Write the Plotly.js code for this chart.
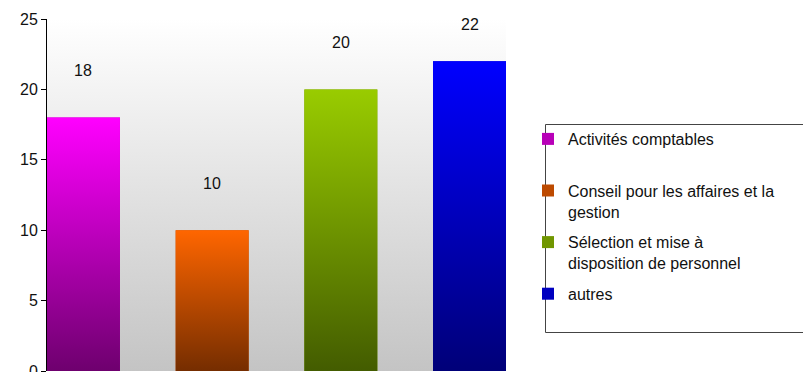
<!DOCTYPE html>
<html>
<head>
<meta charset="utf-8">
<script src="https://cdn.plot.ly/plotly-3.0.1.min.js"></script>
<style>
html,body{margin:0;padding:0;background:#fff;}
#chart{width:803px;height:372px;}
</style>
</head>
<body>
<div id="chart"></div>
<script>
// ---- data ----
const categories = [
  "Activités comptables",
  "Conseil pour les affaires et la<br>gestion",
  "Sélection et mise à<br>disposition de personnel",
  "autres"
];
const values = [18, 10, 20, 22];
const topColors = ["#ff00ff", "#ff6600", "#99cc00", "#0000ff"];
const bottomColors = ["#6e006e", "#752d00", "#435c00", "#000078"];
const midColors = ["#b800b8", "#bd4a00", "#709600", "#0000c0"];
const yTicks = [0, 5, 10, 15, 20, 25];

// ---- layout constants ----
const FONT = "Liberation Sans, Arial, sans-serif";
const half = 0.2835;           // half bar width in category units
const barWidth = half * 2;
const yMax = 25;
const L = 47, PW = 459, T = 19, PH = 352;
const px2x = p => (p - L) / PW;
const py2y = p => (T + PH - p) / PH;

const traces = [];
const idx = values.map((v, i) => i);

// real bars (legend entries)
values.forEach((v, i) => {
  const isSingle = categories[i].indexOf("<br>") < 0;
  traces.push({
    type: "bar",
    x: [idx[i]],
    y: [v],
    width: barWidth,
    name: isSingle ? categories[i] + "<br> " : categories[i],
    legendgroup: "g" + i,
    marker: {color: midColors[i], line: {width: 0}},
    hoverinfo: "skip"
  });
});
// gradient overlay on each bar
values.forEach((v, i) => {
  traces.push({
    type: "scatter",
    mode: "none",
    x: [idx[i] - half, idx[i] - half, idx[i] + half, idx[i] + half, idx[i] - half],
    y: [0, v, v, 0, 0],
    fill: "toself",
    fillgradient: {
      type: "vertical",
      colorscale: [[0, bottomColors[i]], [1, topColors[i]]]
    },
    showlegend: false,
    hoverinfo: "skip"
  });
});

// value labels
const pxPerUnit = PH / yMax;
const annotations = values.map((v, i) => ({
  x: idx[i], y: v, xref: "x", yref: "y",
  text: String(v), showarrow: false,
  yshift: Math.min(47, (yMax - v) * pxPerUnit - 5),
  font: {family: FONT, size: 16, color: "#111"}
}));

const bgSvg = "<svg xmlns='http://www.w3.org/2000/svg' width='100' height='100' preserveAspectRatio='none'>" +
  "<defs><linearGradient id='g' x1='0' y1='0' x2='0' y2='1'>" +
  "<stop offset='0' stop-color='#ffffff'/><stop offset='1' stop-color='#c4c4c4'/>" +
  "</linearGradient></defs><rect width='100' height='100' fill='url(#g)'/></svg>";

const layout = {
  width: 803, height: 372,
  margin: {l: L, r: 803 - L - PW, t: T, b: 372 - T - PH, autoexpand: false},
  paper_bgcolor: "#ffffff",
  plot_bgcolor: "rgba(0,0,0,0)",
  font: {family: FONT, size: 16, color: "#000"},
  barmode: "overlay",
  showlegend: true,
  xaxis: {
    type: "linear",
    range: [idx[0] - half, idx[idx.length - 1] + half],
    showticklabels: false, ticks: "", showgrid: false, zeroline: false, showline: false,
    fixedrange: true
  },
  yaxis: {
    range: [0, yMax],
    tickvals: yTicks,
    ticks: "outside", ticklen: 5, tickwidth: 1, tickcolor: "#000",
    showline: true, linecolor: "#000", linewidth: 1,
    showgrid: false, zeroline: false,
    ticklabeloverflow: "allow",
    tickfont: {family: FONT, size: 16, color: "#111"},
    fixedrange: true
  },
  legend: {
    x: px2x(528), xanchor: "left",
    y: py2y(122), yanchor: "top",
    bgcolor: "rgba(0,0,0,0)",
    borderwidth: 0,
    font: {family: FONT, size: 16, color: "#111"},
    traceorder: "grouped",
    tracegroupgap: 7,
    valign: "top"
  },
  shapes: [{
    type: "rect", xref: "paper", yref: "paper",
    x0: px2x(545.5), x1: px2x(806), y0: py2y(332.5), y1: py2y(124.5),
    line: {color: "#444", width: 1}, fillcolor: "#ffffff", layer: "above"
  }],
  annotations: annotations,
  images: [{
    source: "data:image/svg+xml;charset=utf-8," + encodeURIComponent(bgSvg),
    xref: "paper", yref: "paper", x: 0, y: 1, sizex: 1, sizey: 1,
    xanchor: "left", yanchor: "top", sizing: "stretch", layer: "below"
  }]
};

Plotly.newPlot("chart", traces, layout, {staticPlot: true, displayModeBar: false});
</script>
</body>
</html>
